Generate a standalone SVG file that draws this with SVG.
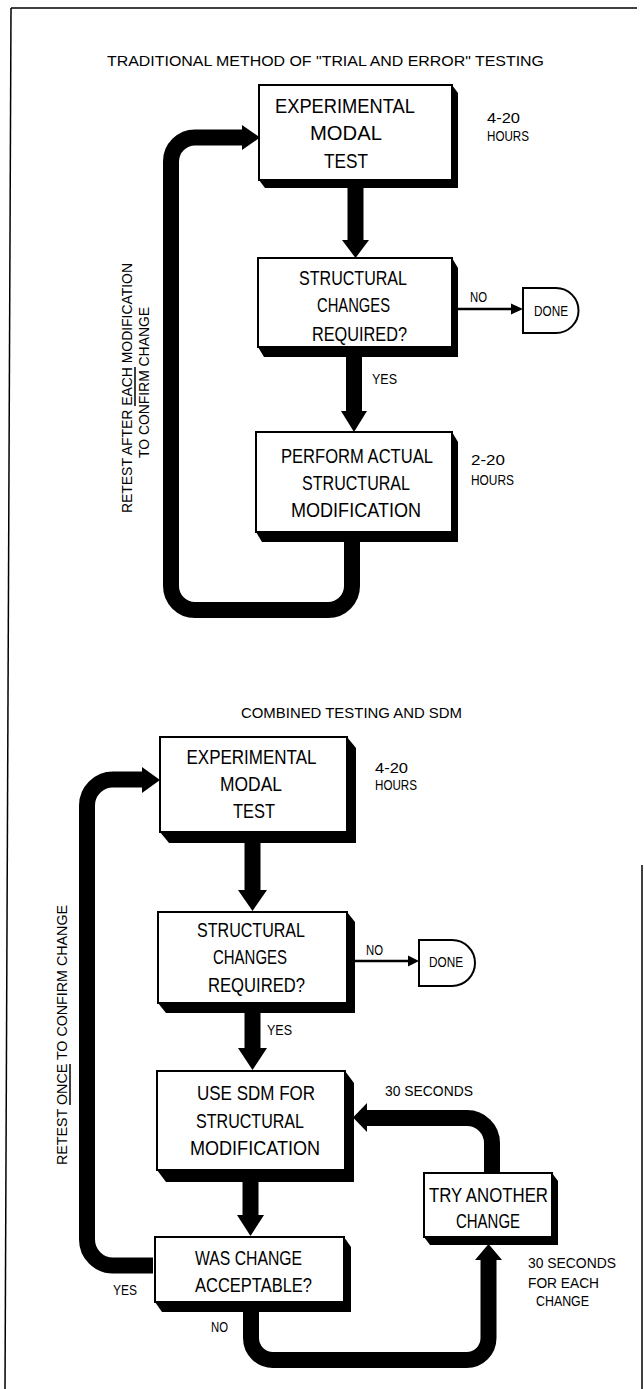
<svg xmlns="http://www.w3.org/2000/svg" width="644" height="1389" viewBox="0 0 644 1389">
<style>
.bx{fill:#fff;stroke:#000;stroke-width:2}
.sh{fill:#000}
text{font-family:"Liberation Sans","DejaVu Sans",Arial,sans-serif;fill:#000}
.b{font-size:21px}
.s{font-size:15px}
.fl{fill:none;stroke:#000;stroke-width:16}
.ah{fill:#000}
.th{stroke:#000;stroke-width:2.5;fill:none}
.fr{stroke:#000;stroke-width:1.5;fill:none}
.ul{stroke:#000;stroke-width:1.5}
</style>
<g id="frame">
<line class="fr" x1="11" y1="8" x2="5" y2="1389"/>
<line class="fr" x1="11" y1="8" x2="637" y2="8"/>
<line class="fr" x1="642" y1="865" x2="642" y2="1389"/>
</g>
<g id="titles">
<text class="s" x="107" y="66" textLength="437" lengthAdjust="spacingAndGlyphs" font-size="16.5">TRADITIONAL METHOD OF "TRIAL AND ERROR" TESTING</text>
<text class="s" x="241" y="718" textLength="221" lengthAdjust="spacingAndGlyphs">COMBINED TESTING AND SDM</text>
</g>
<g id="connectors">
<path class="fl" d="M355.5,188 V242"/>
<polygon class="ah" points="342,240 369,240 355.5,258"/>
<path class="fl" d="M354,357 V413"/>
<polygon class="ah" points="341,411 367,411 354,432"/>
<path class="fl" d="M352,542 V586 A24,24 0 0 1 328,610 H195 A24,24 0 0 1 171,586 V161.5 A24,24 0 0 1 195,137.5 H243"/>
<polygon class="ah" points="242,125 242,150 260,137.5"/>
<path class="th" d="M458,309 H514"/>
<polygon class="ah" points="511,303.5 511,314.5 523,309"/>
<path class="fl" d="M252.5,843 V892"/>
<polygon class="ah" points="238,890 267,890 252.5,911"/>
<path class="fl" d="M252.5,1013 V1050"/>
<polygon class="ah" points="238,1048 267,1048 252.5,1070"/>
<path class="th" d="M355,961 H411"/>
<polygon class="ah" points="408,955.5 408,966.5 419,961"/>
<path class="fl" d="M250.5,1182 V1217"/>
<polygon class="ah" points="237,1215 264,1215 250.5,1236"/>
<path class="fl" d="M492,1173 V1143 A25,25 0 0 0 467,1118 H366"/>
<polygon class="ah" points="367,1103 367,1132 353,1117.5"/>
<path class="fl" d="M251,1312 V1338 A22,22 0 0 0 273,1360 H466.5 A22,22 0 0 0 488.5,1338 V1258"/>
<polygon class="ah" points="475,1260 502,1260 488.5,1244"/>
<path class="fl" d="M153,1265.5 H113 A26,26 0 0 1 87,1239.5 V805.5 A26,26 0 0 1 113,779.5 H143"/>
<polygon class="ah" points="142,767 142,793 160,780"/>
</g>
<g id="n-exp1">
<polygon class="sh" points="452,85 458,93 458,188 265,188 259,180"/>
<rect class="bx" x="259" y="85" width="193" height="95"/>
<text class="b" x="345" y="113" text-anchor="middle" textLength="140" lengthAdjust="spacingAndGlyphs">EXPERIMENTAL</text>
<text class="b" x="346" y="140" text-anchor="middle" textLength="72" lengthAdjust="spacingAndGlyphs">MODAL</text>
<text class="b" x="346" y="168" text-anchor="middle" textLength="44" lengthAdjust="spacingAndGlyphs">TEST</text>
</g>
<g id="n-struct1">
<polygon class="sh" points="452,258 458,268 458,357 264,357 258,347"/>
<rect class="bx" x="258" y="258" width="194" height="89"/>
<text class="b" x="353" y="285" text-anchor="middle" textLength="108" lengthAdjust="spacingAndGlyphs">STRUCTURAL</text>
<text class="b" x="353.5" y="312" text-anchor="middle" textLength="73" lengthAdjust="spacingAndGlyphs">CHANGES</text>
<text class="b" x="359.5" y="341" text-anchor="middle" textLength="95" lengthAdjust="spacingAndGlyphs">REQUIRED?</text>
</g>
<g id="n-done1">
<path class="bx" d="M523,288 H556 A22.5,22.5 0 0 1 556,333 H523 Z"/>
<text class="s" x="551" y="316" font-size="14" text-anchor="middle" textLength="34" lengthAdjust="spacingAndGlyphs">DONE</text>
</g>
<g id="n-perform">
<polygon class="sh" points="452,432 458,442 458,542 262,542 256,532"/>
<rect class="bx" x="256" y="432" width="196" height="100"/>
<text class="b" x="281" y="463" font-size="20" textLength="152" lengthAdjust="spacingAndGlyphs">PERFORM ACTUAL</text>
<text class="b" x="356" y="490" text-anchor="middle" textLength="108" lengthAdjust="spacingAndGlyphs">STRUCTURAL</text>
<text class="b" x="356" y="517" text-anchor="middle" textLength="130" lengthAdjust="spacingAndGlyphs">MODIFICATION</text>
</g>
<g id="labels1">
<text class="s" x="487" y="123" textLength="33" lengthAdjust="spacingAndGlyphs">4-20</text>
<text class="s" x="487" y="141" textLength="42" lengthAdjust="spacingAndGlyphs">HOURS</text>
<text class="s" x="470" y="302" textLength="17" lengthAdjust="spacingAndGlyphs">NO</text>
<text class="s" x="372" y="384" textLength="25" lengthAdjust="spacingAndGlyphs">YES</text>
<text class="s" x="471" y="465" textLength="34" lengthAdjust="spacingAndGlyphs">2-20</text>
<text class="s" x="471" y="485" textLength="43" lengthAdjust="spacingAndGlyphs">HOURS</text>
<text class="s" font-size="16" transform="translate(132,388) rotate(-90)" text-anchor="middle" textLength="250" lengthAdjust="spacingAndGlyphs">RETEST AFTER EACH MODIFICATION</text>
<line class="ul" x1="135" y1="367" x2="135" y2="406"/>
<text class="s" font-size="16" transform="translate(149,382.5) rotate(-90)" text-anchor="middle" textLength="151" lengthAdjust="spacingAndGlyphs">TO CONFIRM CHANGE</text>
</g>
<g id="n-exp2">
<polygon class="sh" points="347,737 356,748 356,843 169,843 160,832"/>
<rect class="bx" x="160" y="737" width="187" height="95"/>
<text class="b" x="251.5" y="764" text-anchor="middle" textLength="130" lengthAdjust="spacingAndGlyphs">EXPERIMENTAL</text>
<text class="b" x="251" y="791" text-anchor="middle" textLength="62" lengthAdjust="spacingAndGlyphs">MODAL</text>
<text class="b" x="254" y="818" text-anchor="middle" textLength="42" lengthAdjust="spacingAndGlyphs">TEST</text>
</g>
<g id="n-struct2">
<polygon class="sh" points="347,912 355,922 355,1013 166,1013 158,1003"/>
<rect class="bx" x="158" y="912" width="189" height="91"/>
<text class="b" x="251" y="937" text-anchor="middle" textLength="108" lengthAdjust="spacingAndGlyphs">STRUCTURAL</text>
<text class="b" x="250" y="964" text-anchor="middle" textLength="74" lengthAdjust="spacingAndGlyphs">CHANGES</text>
<text class="b" x="256.5" y="992" text-anchor="middle" textLength="97" lengthAdjust="spacingAndGlyphs">REQUIRED?</text>
</g>
<g id="n-done2">
<path class="bx" d="M419,940 H452 A23,23 0 0 1 452,986 H419 Z"/>
<text class="s" x="446" y="967" font-size="14" text-anchor="middle" textLength="34" lengthAdjust="spacingAndGlyphs">DONE</text>
</g>
<g id="n-usesdm">
<polygon class="sh" points="345,1071 354,1083 354,1182 166,1182 157,1170"/>
<rect class="bx" x="157" y="1071" width="188" height="99"/>
<text class="b" x="256" y="1100" text-anchor="middle" textLength="118" lengthAdjust="spacingAndGlyphs">USE SDM FOR</text>
<text class="b" x="250" y="1128" text-anchor="middle" textLength="108" lengthAdjust="spacingAndGlyphs">STRUCTURAL</text>
<text class="b" x="255" y="1155" text-anchor="middle" textLength="130" lengthAdjust="spacingAndGlyphs">MODIFICATION</text>
</g>
<g id="n-try">
<polygon class="sh" points="552,1173 558,1181 558,1245 430,1245 424,1237"/>
<rect class="bx" x="424" y="1173" width="128" height="64"/>
<text class="b" x="488.5" y="1202" font-size="22" text-anchor="middle" textLength="119" lengthAdjust="spacingAndGlyphs">TRY ANOTHER</text>
<text class="b" x="488" y="1228" font-size="22" text-anchor="middle" textLength="64" lengthAdjust="spacingAndGlyphs">CHANGE</text>
</g>
<g id="n-was">
<polygon class="sh" points="344,1237 351,1247 351,1312 162,1312 155,1302"/>
<rect class="bx" x="155" y="1237" width="189" height="65"/>
<text class="b" x="248.5" y="1265" text-anchor="middle" textLength="107" lengthAdjust="spacingAndGlyphs">WAS CHANGE</text>
<text class="b" x="253.5" y="1292" text-anchor="middle" textLength="117" lengthAdjust="spacingAndGlyphs">ACCEPTABLE?</text>
</g>
<g id="labels2">
<text class="s" x="375" y="773" textLength="33" lengthAdjust="spacingAndGlyphs">4-20</text>
<text class="s" x="375" y="790" textLength="42" lengthAdjust="spacingAndGlyphs">HOURS</text>
<text class="s" x="366" y="955" textLength="17" lengthAdjust="spacingAndGlyphs">NO</text>
<text class="s" x="267" y="1035" textLength="25" lengthAdjust="spacingAndGlyphs">YES</text>
<text class="s" x="429" y="1096" text-anchor="middle" textLength="88" lengthAdjust="spacingAndGlyphs">30 SECONDS</text>
<text class="s" x="572" y="1268" text-anchor="middle" textLength="88" lengthAdjust="spacingAndGlyphs">30 SECONDS</text>
<text class="s" x="563.5" y="1288" text-anchor="middle" textLength="71" lengthAdjust="spacingAndGlyphs">FOR EACH</text>
<text class="s" x="562.5" y="1306" text-anchor="middle" textLength="53" lengthAdjust="spacingAndGlyphs">CHANGE</text>
<text class="s" x="113" y="1295" textLength="24" lengthAdjust="spacingAndGlyphs">YES</text>
<text class="s" x="211" y="1332" textLength="17" lengthAdjust="spacingAndGlyphs">NO</text>
<text class="s" font-size="17" transform="translate(67,1035) rotate(-90)" text-anchor="middle" textLength="260" lengthAdjust="spacingAndGlyphs">RETEST ONCE TO CONFIRM CHANGE</text>
<line class="ul" x1="70" y1="1064" x2="70" y2="1105"/>
</g>
</svg>
